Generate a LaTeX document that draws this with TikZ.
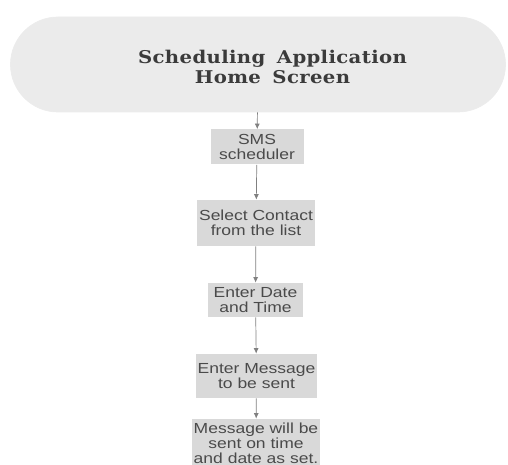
\documentclass[tikz,border=0pt]{standalone}
\usepackage{fontspec}
\newfontfamily\stepfont[FakeStretch=1.2]{Liberation Sans}
\newfontfamily\titlefont[FakeStretch=1.12, LetterSpace=2, WordSpace=1.6]{DejaVu Serif}
\usetikzlibrary{arrows.meta, positioning}

\definecolor{boxgray}{HTML}{D9D9D9}
\definecolor{homegray}{HTML}{EBEBEB}
\definecolor{textgray}{HTML}{4A4A4A}

\begin{document}
\begin{tikzpicture}[
    step box/.style = {fill=boxgray, align=center,
        font=\stepfont\fontsize{8.3}{8.6}\selectfont, text=textgray,
        inner sep=0.5pt},
    every edge/.style = {draw=gray, thin, -{Latex[length=1.1mm, width=1mm]}}]
    \useasboundingbox (0,0) rectangle (10.16,-9.3);
    % \draw [help lines] (0,-9.3) grid (10.16,0);
    \node (home) [fill=homegray, draw=gray!15, rounded corners=0.95cm,
        minimum width=9.9cm, minimum height=1.9cm] at (5.16,-1.29) {};
    \node (title) [align=center, text=textgray!80!black,
        font=\titlefont\bfseries\fontsize{10}{11.4}\selectfont]
        at (5.45,-1.33) {Scheduling Application\\Home Screen};
    \node (sms) [step box, minimum width=1.86cm, minimum height=0.7cm]
        at (5.14,-2.94) {SMS\\scheduler};
    \node (contact) [step box, minimum width=2.36cm, minimum height=0.92cm]
        at (5.12,-4.46) {Select Contact\\from the list};
    \node (date) [step box, minimum width=1.9cm, minimum height=0.68cm]
        at (5.11,-6.0) {Enter Date\\and Time};
    \node (message) [step box, minimum width=2.42cm, minimum height=0.88cm]
        at (5.13,-7.52) {Enter Message\\to be sent};
    \node (sent) [step box, minimum width=2.56cm, minimum height=0.96cm]
        at (5.12,-8.86) {Message will be\\sent on time\\and date as set.};

    \path
        (home) edge (sms)
        (sms) edge (contact)
        (contact) edge (date)
        (date) edge (message)
        (message) edge (sent);
\end{tikzpicture}
\end{document}
